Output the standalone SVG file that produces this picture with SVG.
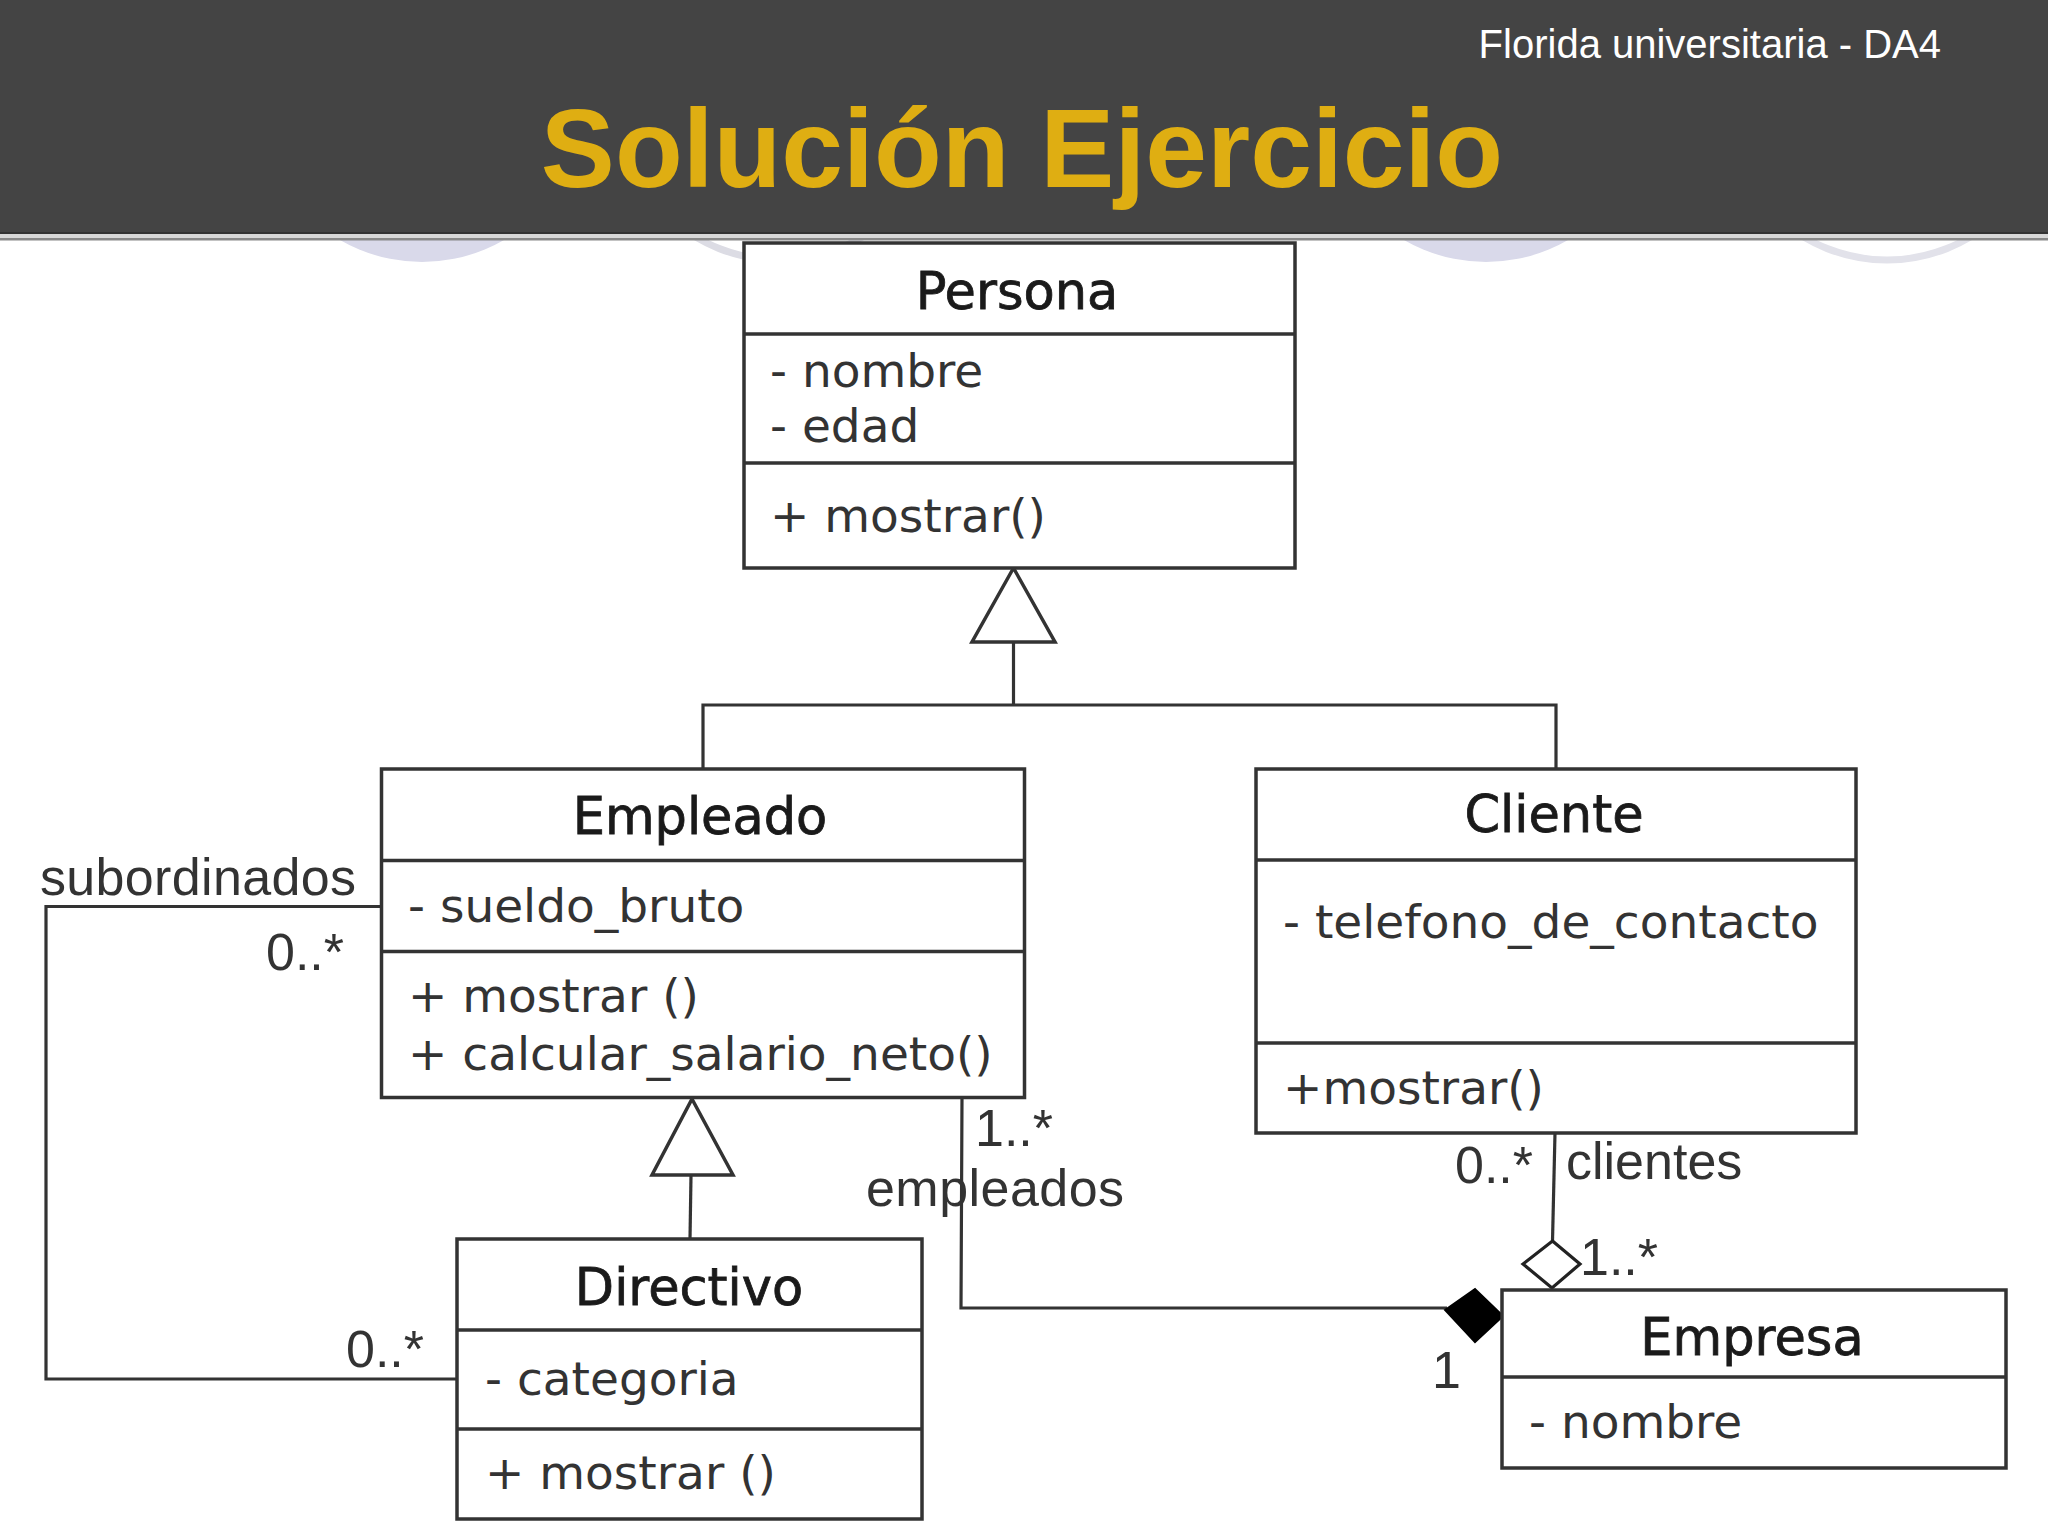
<svg xmlns="http://www.w3.org/2000/svg" width="2048" height="1536" viewBox="0 0 2048 1536">
<style>
.box{fill:#fff;stroke:#333;stroke-width:3.5}
.div{stroke:#333;stroke-width:3.5}
.name{font-family:"DejaVu Sans",sans-serif;font-size:51px;fill:#1a1a1a;stroke:#1a1a1a;stroke-width:0.8;text-anchor:middle}
.attr{font-family:"DejaVu Sans",sans-serif;font-size:47px;fill:#333}
.lbl{font-family:"Liberation Sans",Arial,sans-serif;font-size:52px;fill:#333}
.ln{fill:none;stroke:#333;stroke-width:3.2}
.tri{fill:#fff;stroke:#333;stroke-width:3.5;stroke-linejoin:miter}
</style>
<defs>
<clipPath id="below"><rect x="0" y="240" width="2048" height="60"/></clipPath>
</defs>
<rect x="0" y="0" width="2048" height="1536" fill="#fff"/>
<g id="decor" clip-path="url(#below)">
<circle cx="422" cy="98" r="164" fill="#d9d9ea"/>
<circle cx="1486" cy="98" r="164" fill="#d9d9ea"/>
<circle cx="779" cy="98" r="162" fill="none" stroke="#dcdce4" stroke-width="7"/>
<circle cx="1887" cy="98" r="162" fill="none" stroke="#e2e2ea" stroke-width="7"/>
</g>
<g id="header">
<rect x="0" y="0" width="2048" height="234" fill="#444"/>
<rect x="0" y="232" width="2048" height="2" fill="#333"/>
<rect x="0" y="234" width="2048" height="4" fill="#d8d8d8"/>
<rect x="0" y="238" width="2048" height="2.5" fill="#888"/>
<text x="1941" y="58" font-family="Liberation Sans, Arial, sans-serif" font-size="40" fill="#fff" text-anchor="end">Florida universitaria - DA4</text>
<text x="1022" y="187" font-family="Liberation Sans, Arial, sans-serif" font-size="111" font-weight="bold" fill="#DFAE12" text-anchor="middle">Solución Ejercicio</text>
</g>
<g id="connectors">
<polyline class="ln" points="1013.5,642 1013.5,705"/>
<polyline class="ln" points="703,769 703,705 1556,705 1556,769"/>
<polygon class="tri" points="1013.5,568 1055,642 972,642"/>
<line class="ln" x1="691" y1="1175" x2="690" y2="1239"/>
<polygon class="tri" points="692,1099 733,1175 652,1175"/>
<polyline class="ln" points="381.5,906.5 46,906.5 46,1379 457,1379"/>
<polyline class="ln" points="962,1097 961,1308 1447,1308"/>
<polygon points="1445,1310 1475,1289 1503,1316 1475,1342" fill="#000" stroke="#000" stroke-width="2"/>
<line class="ln" x1="1555" y1="1133" x2="1552.5" y2="1241"/>
<polygon points="1552.5,1241 1580,1264 1552,1288 1523,1264" fill="#fff" stroke="#222" stroke-width="3.2"/>
<text class="lbl" x="40" y="895" textLength="316">subordinados</text>
<text class="lbl" x="266" y="970">0..*</text>
<text class="lbl" x="346" y="1367">0..*</text>
<text class="lbl" x="975" y="1146">1..*</text>
<text class="lbl" x="866" y="1206" textLength="258">empleados</text>
<text class="lbl" x="1455" y="1183">0..*</text>
<text class="lbl" x="1566" y="1179">clientes</text>
<text class="lbl" x="1580" y="1275">1..*</text>
<text class="lbl" x="1432" y="1388">1</text>
</g>
<g id="persona">
<rect class="box" x="744" y="243" width="551" height="325"/>
<line class="div" x1="744" y1="334" x2="1295" y2="334"/>
<line class="div" x1="744" y1="463" x2="1295" y2="463"/>
<text class="name" x="1017" y="309">Persona</text>
<text class="attr" x="770" y="387">- nombre</text>
<text class="attr" x="770" y="442">- edad</text>
<text class="attr" x="770" y="532">+ mostrar()</text>
</g>
<g id="empleado">
<rect class="box" x="381.5" y="769" width="643" height="328.5"/>
<line class="div" x1="381.5" y1="860.5" x2="1024.5" y2="860.5"/>
<line class="div" x1="381.5" y1="951.5" x2="1024.5" y2="951.5"/>
<text class="name" x="700" y="834">Empleado</text>
<text class="attr" x="408" y="922">- sueldo_bruto</text>
<text class="attr" x="408" y="1012">+ mostrar ()</text>
<text class="attr" x="408" y="1070">+ calcular_salario_neto()</text>
</g>
<g id="cliente">
<rect class="box" x="1256" y="769" width="600" height="364"/>
<line class="div" x1="1256" y1="860" x2="1856" y2="860"/>
<line class="div" x1="1256" y1="1043" x2="1856" y2="1043"/>
<text class="name" x="1554" y="832">Cliente</text>
<text class="attr" x="1283" y="938">- telefono_de_contacto</text>
<text class="attr" x="1283" y="1104">+mostrar()</text>
</g>
<g id="directivo">
<rect class="box" x="457" y="1239" width="465" height="280"/>
<line class="div" x1="457" y1="1330" x2="922" y2="1330"/>
<line class="div" x1="457" y1="1429" x2="922" y2="1429"/>
<text class="name" x="689" y="1305">Directivo</text>
<text class="attr" x="485" y="1395">- categoria</text>
<text class="attr" x="485" y="1489">+ mostrar ()</text>
</g>
<g id="empresa">
<rect class="box" x="1502" y="1290" width="504" height="178"/>
<line class="div" x1="1502" y1="1377" x2="2006" y2="1377"/>
<text class="name" x="1752" y="1355">Empresa</text>
<text class="attr" x="1529" y="1438">- nombre</text>
</g>
</svg>
